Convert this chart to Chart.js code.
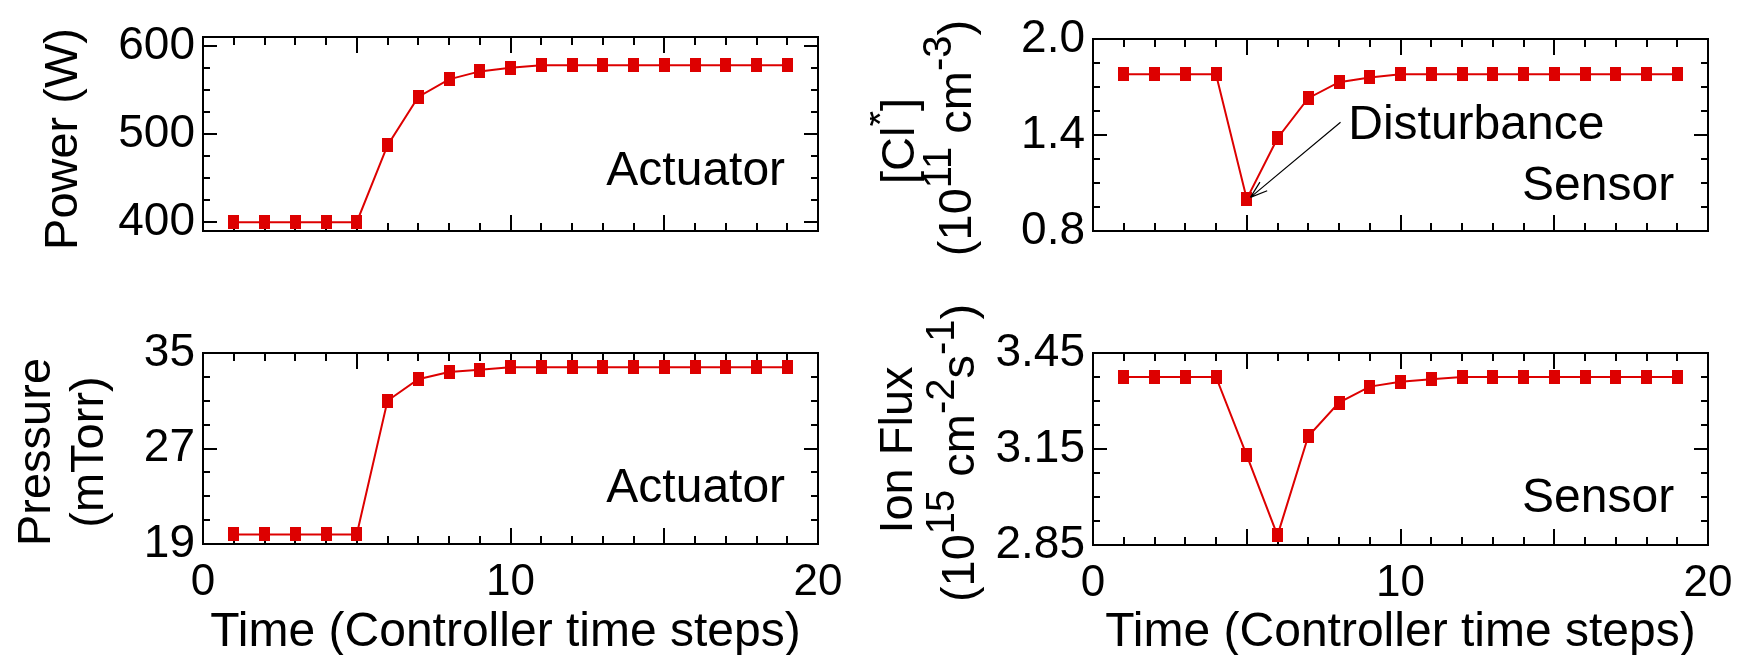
<!DOCTYPE html>
<html>
<head>
<meta charset="utf-8">
<script src="https://cdn.jsdelivr.net/npm/chart.js@4.4.1/dist/chart.umd.min.js"></script>
<style>
  html, body { margin: 0; padding: 0; background: #fff; }
  #wrap { position: relative; width: 1750px; height: 655px; overflow: hidden; }
  canvas { position: absolute; }
</style>
</head>
<body>
<div id="wrap">
  <canvas id="cPower" style="left:0px;top:0px" width="870" height="280"></canvas>
  <canvas id="cCl" style="left:870px;top:0px" width="880" height="280"></canvas>
  <canvas id="cPres" style="left:0px;top:280px" width="870" height="375"></canvas>
  <canvas id="cFlux" style="left:870px;top:280px" width="880" height="375"></canvas>
</div>
<script>
// data (controller time steps 1..19)
const steps = [1, 2, 3, 4, 5, 6, 7, 8, 9, 10, 11, 12, 13, 14, 15, 16, 17, 18, 19];
const powerW = [400, 400, 400, 400, 400, 487, 542, 562, 571, 575, 578, 578, 578, 578, 578, 578, 578, 578, 578];
const clDensity = [1.78, 1.78, 1.78, 1.78, 1.00, 1.38, 1.63, 1.73, 1.76, 1.78, 1.78, 1.78, 1.78, 1.78, 1.78, 1.78, 1.78, 1.78, 1.78];
const pressure = [19.8, 19.8, 19.8, 19.8, 19.8, 31.0, 32.8, 33.4, 33.6, 33.8, 33.8, 33.8, 33.8, 33.8, 33.8, 33.8, 33.8, 33.8, 33.8];
const ionFlux = [3.375, 3.375, 3.375, 3.375, 3.13, 2.88, 3.19, 3.295, 3.345, 3.36, 3.368, 3.375, 3.375, 3.375, 3.375, 3.375, 3.375, 3.375, 3.375];

const xTicks = [0, 10, 20];
const xTickLabels = ['0', '10', '20'];
const powerTicks = [400, 500, 600];
const powerTickLabels = ['400', '500', '600'];
const clTicks = [0.8, 1.4, 2.0];
const clTickLabels = ['0.8', '1.4', '2.0'];
const pressureTicks = [19, 27, 35];
const pressureTickLabels = ['19', '27', '35'];
const fluxTicks = [2.85, 3.15, 3.45];
const fluxTickLabels = ['2.85', '3.15', '3.45'];

const RED = '#dd0000';
const FONT = "'Liberation Sans', Arial, Helvetica, sans-serif";

function marker(w, h) {
  const c = document.createElement('canvas');
  c.width = w; c.height = h;
  const g = c.getContext('2d');
  g.fillStyle = RED;
  g.fillRect(0, 0, w, h);
  return c;
}
const box = marker(11, 14);

function pick(values, labels) {
  return v => {
    const i = values.findIndex(m => Math.abs(m - v) < 1e-6);
    return i >= 0 ? labels[i] : '';
  };
}

// minor ticks every `step`, counted from the first labelled value
function minorTicks(base, step) {
  return s => {
    const out = [];
    const k0 = Math.ceil((s.min - base) / step - 1e-6);
    const k1 = Math.floor((s.max - base) / step + 1e-6);
    for (let k = k0; k <= k1; k++) out.push({ value: Math.round((base + k * step) * 1e6) / 1e6 });
    s.ticks = out;
  };
}

// frame + inward ticks on all four sides
const frameTicks = {
  id: 'frameTicks',
  beforeDatasetsDraw(chart) {
    const { ctx, chartArea: a, scales: { x, y } } = chart;
    ctx.save();
    ctx.strokeStyle = '#000';
    ctx.lineWidth = 2;
    ctx.beginPath();
    x.ticks.forEach(t => {
      if (t.value <= x.min || t.value >= x.max) return;
      const px = Math.round(x.getPixelForValue(t.value));
      const len = t.value % 5 === 0 ? 16 : 8;
      ctx.moveTo(px, a.bottom); ctx.lineTo(px, a.bottom - len);
      ctx.moveTo(px, a.top); ctx.lineTo(px, a.top + len);
    });
    y.ticks.forEach(t => {
      if (t.value <= y.min + 1e-9 || t.value >= y.max - 1e-9) return;
      const py = Math.round(y.getPixelForValue(t.value));
      const len = t.label ? 14 : 7;
      ctx.moveTo(a.left, py); ctx.lineTo(a.left + len, py);
      ctx.moveTo(a.right, py); ctx.lineTo(a.right - len, py);
    });
    ctx.stroke();
    ctx.strokeRect(a.left, a.top, a.right - a.left, a.bottom - a.top);
    ctx.restore();
  }
};

// text made of runs, some of them superscript
function runsWidth(ctx, runs, size) {
  let w = 0;
  runs.forEach(([t, sup]) => {
    ctx.font = (sup ? size * 0.85 : size) + 'px ' + FONT;
    w += ctx.measureText(t).width;
  });
  return w;
}
function drawRuns(ctx, runs, cx, cy, size, rotate) {
  ctx.save();
  ctx.translate(cx, cy);
  if (rotate) ctx.rotate(-Math.PI / 2);
  ctx.fillStyle = '#000';
  ctx.textAlign = 'left';
  ctx.textBaseline = 'alphabetic';
  let x = -runsWidth(ctx, runs, size) / 2;
  const base = size * 0.716 / 2;
  runs.forEach(([t, sup]) => {
    ctx.font = (sup ? size * 0.85 : size) + 'px ' + FONT;
    ctx.fillText(t, x, sup ? base - size * 0.42 : base);
    x += ctx.measureText(t).width;
  });
  ctx.restore();
}

function titles(list) {
  return {
    id: 'titles',
    afterDraw(chart) {
      list.forEach(o => drawRuns(chart.ctx, o.runs, o.x, o.y, o.size, o.rotate));
    }
  };
}

function notes(items, arrow) {
  return {
    id: 'notes',
    afterDraw(chart) {
      const { ctx, scales: { x, y } } = chart;
      ctx.save();
      ctx.fillStyle = '#000';
      ctx.font = '48px ' + FONT;
      ctx.textBaseline = 'alphabetic';
      items.forEach(n => {
        ctx.textAlign = n.align;
        ctx.fillText(n.text, x.getPixelForValue(n.x), y.getPixelForValue(n.y));
      });
      if (arrow) {
        const x1 = x.getPixelForValue(arrow.from[0]), y1 = y.getPixelForValue(arrow.from[1]);
        const x2 = x.getPixelForValue(arrow.to[0]), y2 = y.getPixelForValue(arrow.to[1]);
        const ang = Math.atan2(y2 - y1, x2 - x1);
        ctx.strokeStyle = '#000';
        ctx.lineWidth = 1.2;
        ctx.beginPath();
        ctx.moveTo(x1, y1); ctx.lineTo(x2, y2);
        [-0.32, 0.32].forEach(d => {
          ctx.moveTo(x2, y2);
          ctx.lineTo(x2 - 18 * Math.cos(ang + d), y2 - 18 * Math.sin(ang + d));
        });
        ctx.stroke();
      }
      ctx.restore();
    }
  };
}

function panel(id, p, values, yMin, yMax, yStep, yMajors, yLabels, showX, extra) {
  new Chart(document.getElementById(id), {
    type: 'line',
    data: {
      labels: steps,
      datasets: [{
        data: steps.map((s, i) => ({ x: s, y: values[i] })),
        borderColor: RED,
        borderWidth: 2,
        pointStyle: box,
        pointRadius: 7,
        pointBackgroundColor: RED,
        tension: 0
      }]
    },
    options: {
      responsive: false,
      animation: false,
      layout: { padding: { left: 0, top: p.t, right: p.w - p.r, bottom: 0 } },
      plugins: { legend: { display: false }, tooltip: { enabled: false } },
      scales: {
        x: {
          type: 'linear', min: 0, max: 20,
          grid: { display: false, drawTicks: false },
          border: { display: false },
          ticks: {
            stepSize: 1, autoSkip: false, maxRotation: 0, display: showX,
            padding: 12, color: '#000', font: { family: FONT, size: 44 },
            callback: pick(xTicks, xTickLabels)
          },
          afterFit: s => { s.height = p.h - p.b; }
        },
        y: {
          type: 'linear', min: yMin, max: yMax,
          grid: { display: false, drawTicks: false },
          border: { display: false },
          afterBuildTicks: minorTicks(yMajors[0], yStep),
          ticks: {
            autoSkip: false, padding: 8,
            color: '#000', font: { family: FONT, size: 46 },
            callback: pick(yMajors, yLabels)
          },
          afterFit: s => { s.width = p.l; }
        }
      }
    },
    plugins: [frameTicks].concat(extra)
  });
}

// panel geometry, canvas-relative: left/right/top/bottom of plot area
const pTL = { w: 870, h: 280, l: 203, r: 818, t: 37, b: 231 };
const pTR = { w: 880, h: 280, l: 223, r: 838, t: 39, b: 231 };
const pBL = { w: 870, h: 375, l: 203, r: 818, t: 73, b: 264 };
const pBR = { w: 880, h: 375, l: 223, r: 838, t: 73, b: 265 };

const timeTitle = [['Time (Controller time steps)', false]];

panel('cPower', pTL, powerW, 390, 610, 25, powerTicks, powerTickLabels, false, [
  titles([{ runs: [['Power (W)', false]], x: 60, y: 139, size: 47, rotate: true }]),
  notes([{ text: 'Actuator', x: 18.93, y: 442, align: 'right' }])
]);

panel('cCl', pTR, clDensity, 0.8, 2.0, 0.15, clTicks, clTickLabels, false, [
  titles([
    { runs: [['[Cl', false], ['*', true], [']', false]], x: 27, y: 141, size: 47, rotate: true },
    { runs: [['(10', false], ['11', true], [' cm', false], ['-3', true], [')', false]], x: 84, y: 138, size: 47, rotate: true }
  ]),
  notes([
    { text: 'Disturbance', x: 8.3, y: 1.375, align: 'left' },
    { text: 'Sensor', x: 18.9, y: 0.994, align: 'right' }
  ], { from: [8.05, 1.48], to: [5.12, 1.01] })
]);

panel('cPres', pBL, pressure, 19, 35, 2, pressureTicks, pressureTickLabels, true, [
  titles([
    { runs: [['Pressure', false]], x: 33, y: 172, size: 47, rotate: true },
    { runs: [['(mTorr)', false]], x: 86, y: 172, size: 47, rotate: true },
    { runs: timeTitle, x: (pBL.l + pBL.r) / 2 - 5, y: 349, size: 48, rotate: false }
  ]),
  notes([{ text: 'Actuator', x: 18.93, y: 22.5, align: 'right' }])
]);

panel('cFlux', pBR, ionFlux, 2.85, 3.45, 0.075, fluxTicks, fluxTickLabels, true, [
  titles([
    { runs: [['Ion Flux', false]], x: 25, y: 170, size: 47, rotate: true },
    { runs: [['(10', false], ['15', true], [' cm', false], ['-2', true], ['s', false], ['-1', true], [')', false]], x: 87, y: 173, size: 47, rotate: true },
    { runs: timeTitle, x: (pBR.l + pBR.r) / 2, y: 349, size: 48, rotate: false }
  ]),
  notes([{ text: 'Sensor', x: 18.9, y: 2.953, align: 'right' }])
]);
</script>
</body>
</html>
